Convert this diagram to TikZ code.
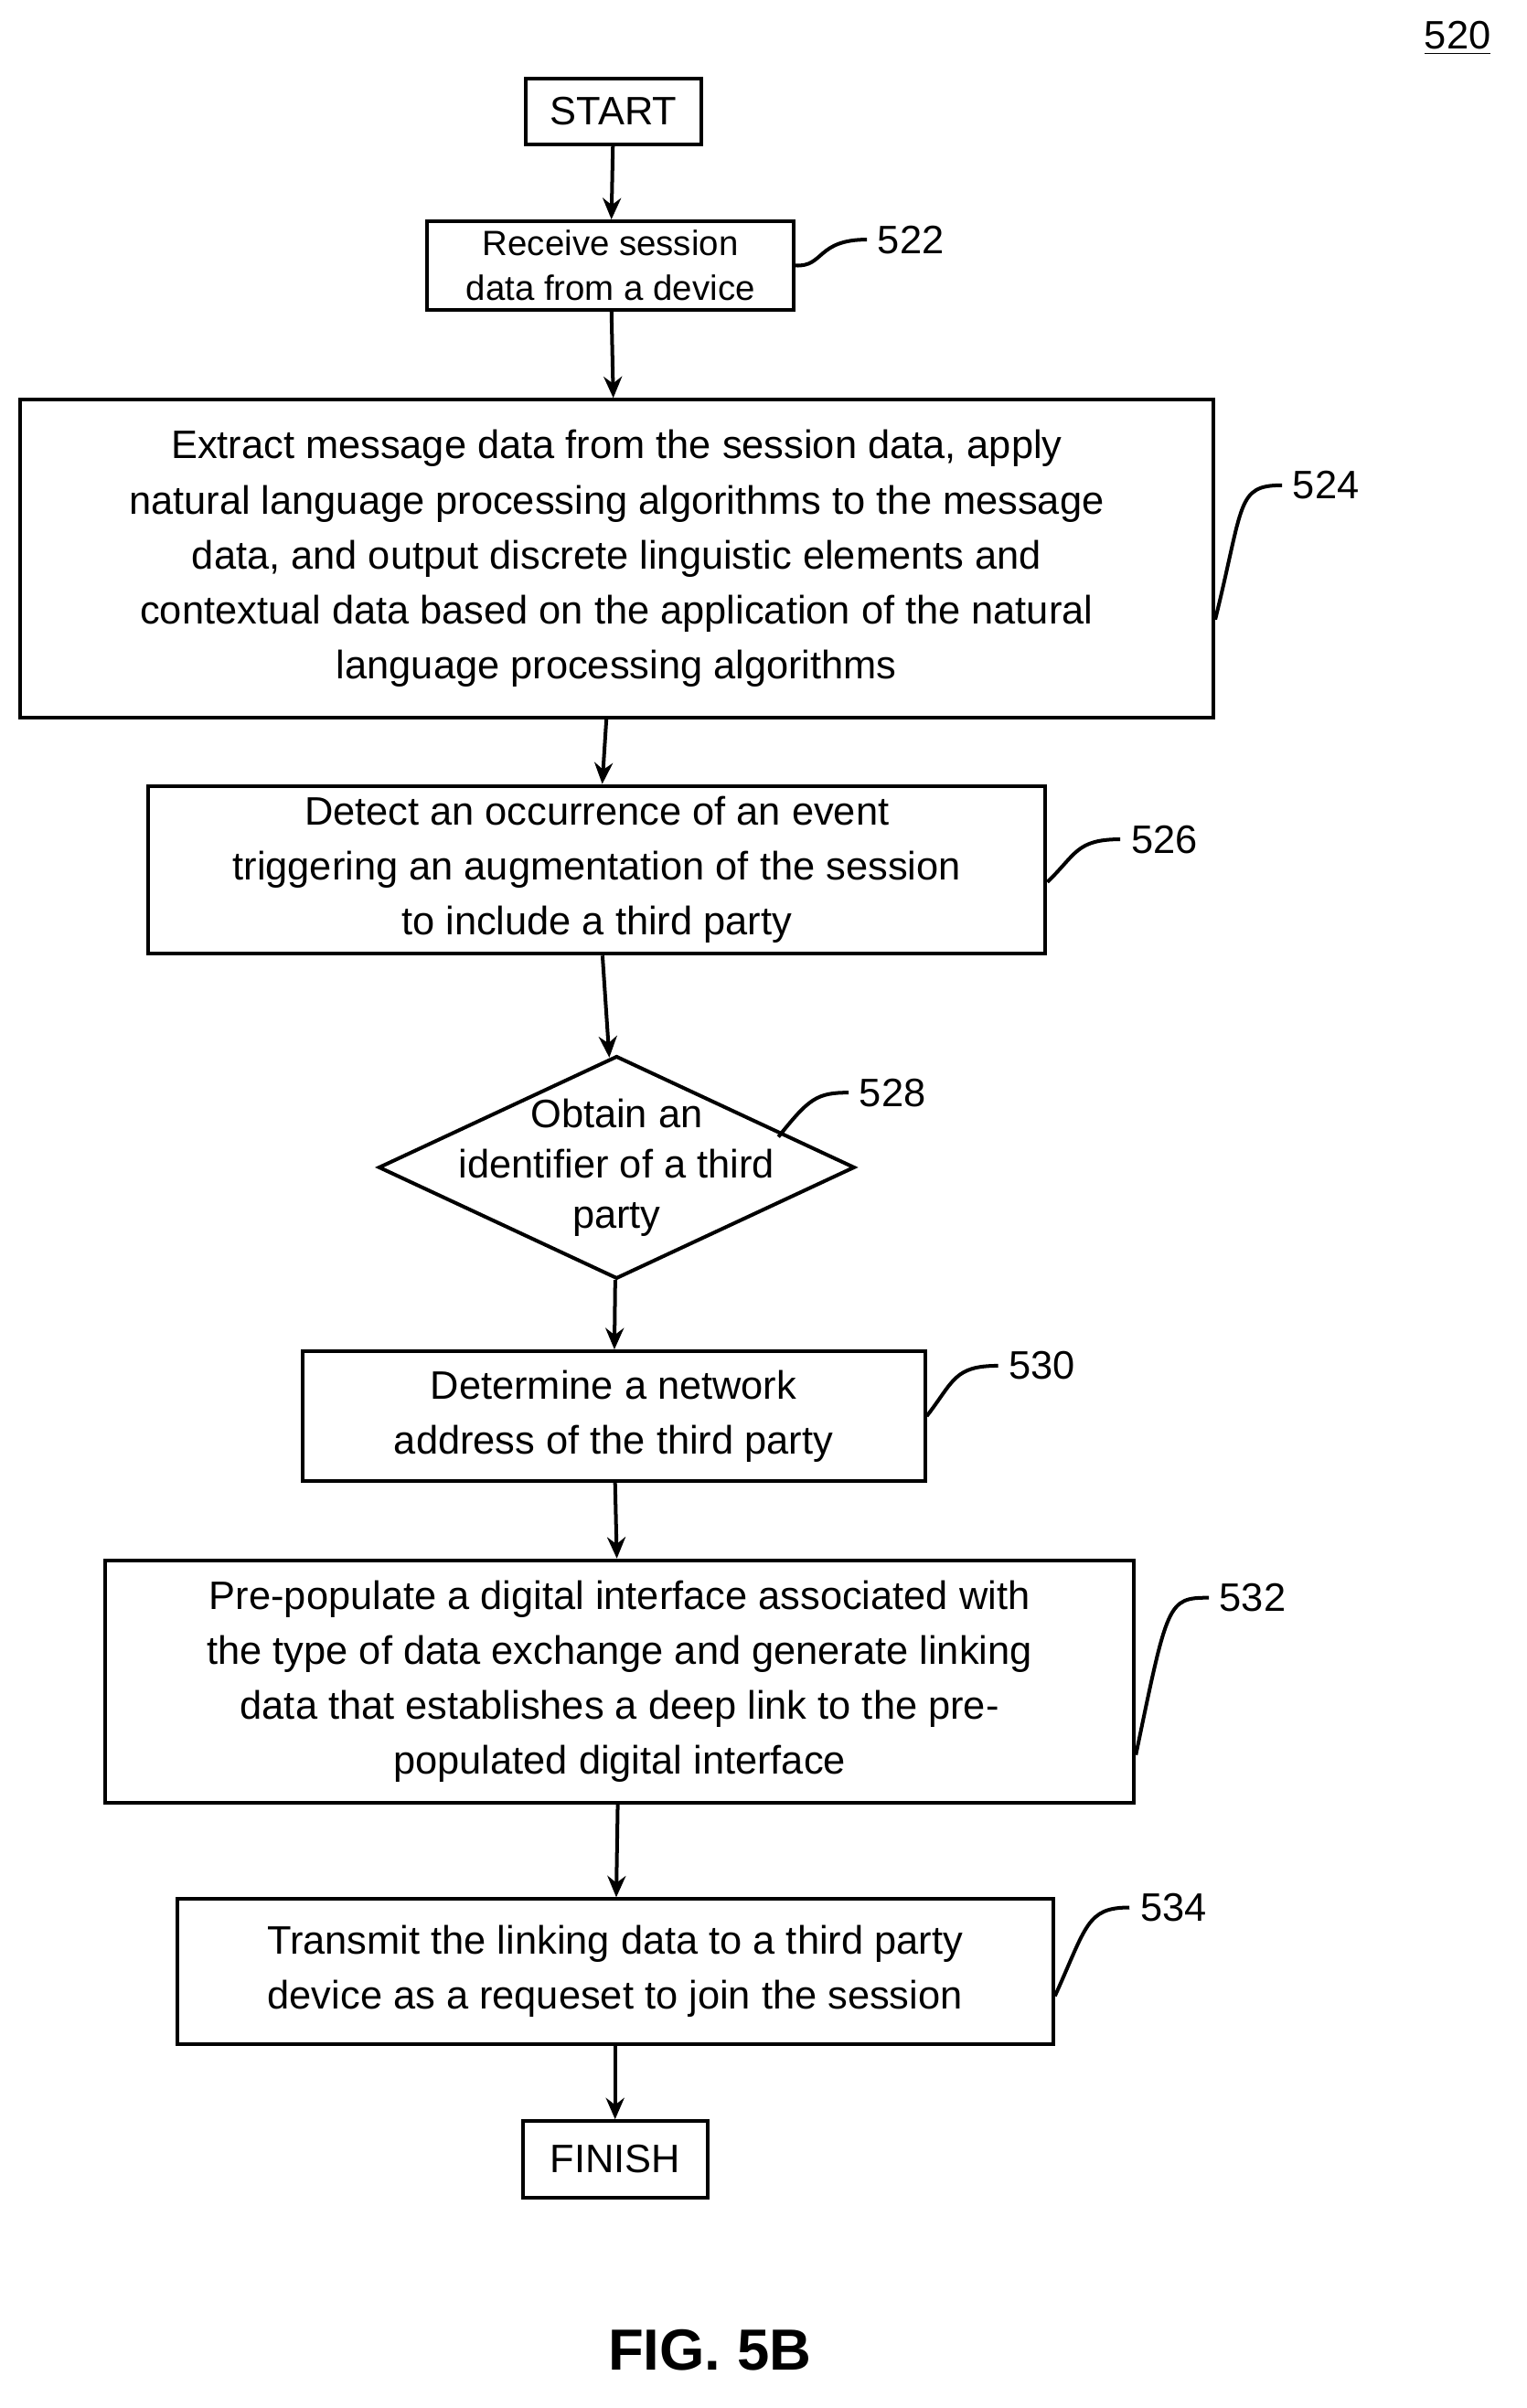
\documentclass[tikz,border=0pt]{standalone}
\usepackage{fontspec}
\setmainfont{Liberation Sans}
\usetikzlibrary{shapes.geometric,arrows.meta}
\begin{document}
\begin{tikzpicture}[x=0.5pt,y=-0.5pt,
  box/.style={draw,line width=1.2pt,align=center,inner sep=0pt,font=\fontsize{13}{18}\selectfont},
  lab/.style={font=\fontsize{13}{15}\selectfont},
  arr/.style={-{Stealth[length=7pt,width=6pt]},line width=1.2pt},
  lead/.style={line width=1.2pt}]
\useasboundingbox (0,0) rectangle (1000,1578);
\node[box,minimum width=57.5pt,minimum height=21.5pt] (start) at (402,73) {START};
\node[box,minimum width=120pt,minimum height=29pt,font=\fontsize{11.5}{14.5}\selectfont] (b522) at (400,174) {Receive session\\data from a device};
\node[box,minimum width=391pt,minimum height=104pt] (b524) at (404,366) {Extract message data from the session data, apply\\natural language processing algorithms to the message\\data, and output discrete linguistic elements and\\contextual data based on the application of the natural\\language processing algorithms};
\node[box,minimum width=294pt,minimum height=55pt] (b526) at (391,570) {Detect an occurrence of an event\\triggering an augmentation of the session\\to include a third party};
\node[draw,line width=1.2pt,diamond,aspect=2.14,minimum width=156pt,minimum height=73pt,inner sep=0pt] (b528) at (404,765) {};
\node[align=center,font=\fontsize{13}{16.5}\selectfont] at (404,765) {Obtain an\\identifier of a third\\party};
\node[box,minimum width=204pt,minimum height=42.5pt] (b530) at (402,928) {Determine a network\\address of the third party};
\node[box,minimum width=337pt,minimum height=79.5pt] (b532) at (406,1102) {Pre-populate a digital interface associated with\\the type of data exchange and generate linking\\data that establishes a deep link to the pre-\\populated digital interface};
\node[box,minimum width=287pt,minimum height=47.5pt] (b534) at (403,1292) {Transmit the linking data to a third party\\device as a requeset to join the session};
\node[box,minimum width=60.5pt,minimum height=25pt] (finish) at (403,1415) {FINISH};
\draw[arr] (start) -- (b522);
\draw[arr] (b522) -- (b524);
\draw[arr] (b524) -- (b526);
\draw[arr] (b526) -- (b528);
\draw[arr] (b528) -- (b530);
\draw[arr] (b530) -- (b532);
\draw[arr] (b532) -- (b534);
\draw[arr] (b534) -- (finish);
\node[lab,anchor=west] (l522) at (568,157) {522};
\node[lab,anchor=west] (l524) at (840,318) {524};
\node[lab,anchor=west] (l526) at (734,550) {526};
\node[lab,anchor=west] (l528) at (556,716) {528};
\node[lab,anchor=west] (l530) at (654,895) {530};
\node[lab,anchor=west] (l532) at (792,1047) {532};
\node[lab,anchor=west] (l534) at (740,1250) {534};
\draw[lead] (b522.east) .. controls (540,175) and (535,157) .. (l522.west);
\draw[lead] ([yshift=-20pt]b524.east) .. controls (815,330) and (810,318) .. (l524.west);
\draw[lead] ([yshift=-4pt]b526.east) .. controls (705,560) and (705,550) .. (l526.west);
\draw[lead] (510,745) .. controls (530,720) and (535,716) .. (l528.west);
\draw[lead] (b530.east) .. controls (625,905) and (625,895) .. (l530.west);
\draw[lead] ([yshift=-24pt]b532.east) .. controls (765,1050) and (765,1047) .. (l532.west);
\draw[lead] ([yshift=-8pt]b534.east) .. controls (712,1262) and (712,1250) .. (l534.west);
\node[lab] (l520) at (955,25) {\underline{520}};
\node[font=\bfseries\fontsize{19}{22}\selectfont] (fig) at (465,1540) {FIG. 5B};
\end{tikzpicture}
\end{document}
